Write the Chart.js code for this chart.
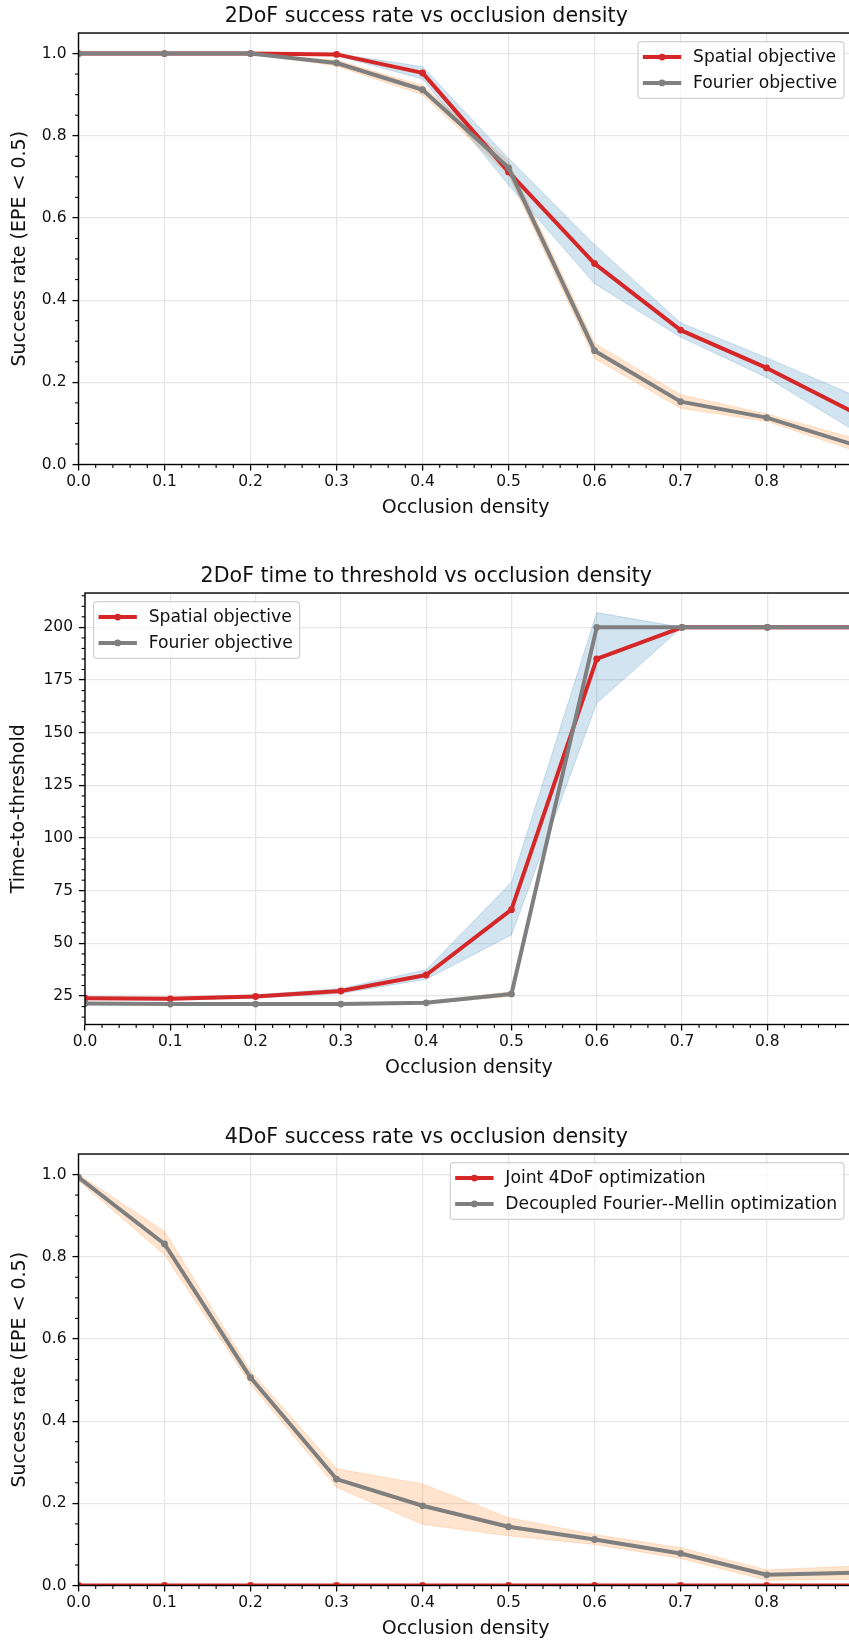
<!DOCTYPE html>
<html>
<head>
<meta charset="utf-8">
<script src="https://cdn.jsdelivr.net/npm/chart.js@4.4.1/dist/chart.umd.min.js"></script>
<style>
html,body{margin:0;padding:0;background:#fff;overflow:hidden;width:849px;height:1642px;position:relative;}
.box{position:absolute;left:0;width:870px;height:560px;}
canvas{display:block;}
</style>
</head>
<body>
<div class="box" style="top:0px"><canvas id="c1" width="870" height="560"></canvas></div>
<div class="box" style="top:560px"><canvas id="c2" width="870" height="560"></canvas></div>
<div class="box" style="top:1121px"><canvas id="c3" width="870" height="560"></canvas></div>
<script>
// ---------- data ----------
const densities = [0.0, 0.1, 0.2, 0.3, 0.4, 0.5, 0.6, 0.7, 0.8, 0.9];

const xTickValues = [0.0, 0.1, 0.2, 0.3, 0.4, 0.5, 0.6, 0.7, 0.8];
const xTickLabels = ['0.0', '0.1', '0.2', '0.3', '0.4', '0.5', '0.6', '0.7', '0.8'];
const rateTickValues = [0.0, 0.2, 0.4, 0.6, 0.8, 1.0];
const rateTickLabels = ['0.0', '0.2', '0.4', '0.6', '0.8', '1.0'];
const timeTickValues = [25, 50, 75, 100, 125, 150, 175, 200];
const timeTickLabels = ['25', '50', '75', '100', '125', '150', '175', '200'];

// Chart 1: 2DoF success rate
const spatialRate   = [1.000, 1.000, 1.000, 0.998, 0.953, 0.712, 0.489, 0.327, 0.235, 0.128];
const spatialRateLo = [1.000, 1.000, 1.000, 0.995, 0.938, 0.680, 0.440, 0.310, 0.212, 0.085];
const spatialRateHi = [1.000, 1.000, 1.000, 1.000, 0.968, 0.745, 0.535, 0.345, 0.260, 0.170];
const fourierRate   = [1.000, 1.000, 1.000, 0.977, 0.912, 0.722, 0.277, 0.153, 0.114, 0.049];
const fourierRateLo = [1.000, 1.000, 1.000, 0.970, 0.900, 0.705, 0.258, 0.137, 0.105, 0.035];
const fourierRateHi = [1.000, 1.000, 1.000, 0.984, 0.922, 0.738, 0.295, 0.170, 0.123, 0.065];

// Chart 2: 2DoF time to threshold
const spatialTime   = [24.0, 23.7, 24.8, 27.4, 35.0, 66.0, 185.0, 200, 200, 200];
const spatialTimeLo = [23.3, 23.0, 24.0, 26.2, 33.0, 54.0, 164.0, 200, 200, 200];
const spatialTimeHi = [24.7, 24.4, 25.6, 28.6, 37.5, 79.0, 207.0, 200, 200, 200];
const fourierTime   = [21.5, 21.2, 21.2, 21.2, 21.8, 26.0, 200, 200, 200, 200];
const fourierTimeLo = [21.0, 20.8, 20.8, 20.8, 21.2, 25.0, 200, 200, 200, 200];
const fourierTimeHi = [22.0, 21.6, 21.6, 21.6, 22.4, 27.0, 200, 200, 200, 200];

// Chart 3: 4DoF success rate
const jointRate       = [0, 0, 0, 0, 0, 0, 0, 0, 0, 0];
const jointRateLo     = [0, 0, 0, 0, 0, 0, 0, 0, 0, 0];
const jointRateHi     = [0, 0, 0, 0, 0, 0, 0, 0, 0, 0];
const decoupledRate   = [0.993, 0.831, 0.506, 0.259, 0.194, 0.143, 0.112, 0.078, 0.026, 0.031];
const decoupledRateLo = [0.985, 0.805, 0.490, 0.239, 0.149, 0.121, 0.100, 0.066, 0.013, 0.015];
const decoupledRateHi = [1.000, 0.862, 0.522, 0.284, 0.247, 0.165, 0.124, 0.092, 0.038, 0.047];

// ---------- styling ----------
const FONT = '"DejaVu Sans", "Liberation Sans", sans-serif';
const RED = '#d62728';
const GRAY = '#7f7f7f';
const BLUE_FILL = 'rgba(31,119,180,0.2)';
const ORANGE_FILL = 'rgba(255,127,14,0.2)';
const TEXT = '#111';

const pts = (arr) => densities.map((d, i) => ({x: d, y: arr[i]}));

function lineDs(label, arr, color, order) {
  return {
    label, data: pts(arr), borderColor: color, backgroundColor: color,
    borderWidth: 4, borderCapStyle: 'square', borderJoinStyle: 'round',
    pointRadius: 3.4, pointBorderWidth: 0, pointBackgroundColor: color,
    pointHoverRadius: 3.4, tension: 0, fill: false, clip: 0, order
  };
}
function bandDs(arr, color, fill) {
  return {
    label: '_band', data: pts(arr), borderColor: color, borderWidth: 1,
    backgroundColor: color, pointRadius: 0, pointHoverRadius: 0,
    tension: 0, fill: fill, clip: 0, order: 5
  };
}

const mplFrame = {
  id: 'mplFrame',
  afterDatasetsDraw(chart, args, o) {
    const {ctx, chartArea: a} = chart;
    const xs = chart.scales.x, ys = chart.scales.y;
    ctx.save();
    ctx.strokeStyle = '#000';
    ctx.lineWidth = 1.1;
    // minor ticks
    const isMajor = (v, majors) => majors.some(m => Math.abs(m - v) < 1e-6);
    for (let v = o.xMinorStart; v < xs.max - 1e-9; v += o.xMinorStep) {
      const vv = Math.round(v * 1000) / 1000;
      if (isMajor(vv, xTickValues) || vv <= xs.min) continue;
      const p = xs.getPixelForValue(vv);
      ctx.beginPath(); ctx.moveTo(p, a.bottom); ctx.lineTo(p, a.bottom + 3.4); ctx.stroke();
    }
    for (let v = o.yMinorStart; v < ys.max - 1e-9; v += o.yMinorStep) {
      const vv = Math.round(v * 1000) / 1000;
      if (isMajor(vv, o.yMajors) || vv <= ys.min) continue;
      const p = ys.getPixelForValue(vv);
      ctx.beginPath(); ctx.moveTo(a.left, p); ctx.lineTo(a.left - 3.4, p); ctx.stroke();
    }
    // spines
    ctx.lineWidth = 1.4;
    ctx.strokeRect(a.left, a.top, a.right - a.left, a.bottom - a.top);
    ctx.restore();
  }
};

const mplLegend = {
  id: 'mplLegend',
  afterDraw(chart, args, o) {
    if (!o.items) return;
    const {ctx, chartArea: a} = chart;
    const fs = 17.2;
    ctx.save();
    ctx.font = fs + 'px ' + FONT;
    const tw = Math.max(...o.items.map(it => ctx.measureText(it.label).width));
    const pad = 0.4 * fs, hl = 2 * fs, htp = 0.8 * fs, ls = 0.5 * fs, bap = 0.5 * fs, rh = fs;
    const w = pad * 2 + hl + htp + tw;
    const h = pad * 2 + o.items.length * rh + (o.items.length - 1) * ls;
    const x0 = o.loc === 'upper left' ? a.left + bap : a.right - bap - w;
    const y0 = a.top + bap;
    const r = 3.5;
    ctx.beginPath();
    ctx.moveTo(x0 + r, y0);
    ctx.lineTo(x0 + w - r, y0); ctx.arcTo(x0 + w, y0, x0 + w, y0 + r, r);
    ctx.lineTo(x0 + w, y0 + h - r); ctx.arcTo(x0 + w, y0 + h, x0 + w - r, y0 + h, r);
    ctx.lineTo(x0 + r, y0 + h); ctx.arcTo(x0, y0 + h, x0, y0 + h - r, r);
    ctx.lineTo(x0, y0 + r); ctx.arcTo(x0, y0, x0 + r, y0, r);
    ctx.closePath();
    ctx.fillStyle = 'rgba(255,255,255,0.8)';
    ctx.fill();
    ctx.strokeStyle = 'rgba(204,204,204,0.9)';
    ctx.lineWidth = 1.2;
    ctx.stroke();
    o.items.forEach((it, i) => {
      const cy = y0 + pad + rh / 2 + i * (rh + ls);
      ctx.strokeStyle = it.color; ctx.lineWidth = 4; ctx.lineCap = 'square';
      ctx.beginPath(); ctx.moveTo(x0 + pad, cy); ctx.lineTo(x0 + pad + hl, cy); ctx.stroke();
      ctx.fillStyle = it.color;
      ctx.beginPath(); ctx.arc(x0 + pad + hl / 2, cy, 3.4, 0, Math.PI * 2); ctx.fill();
      ctx.fillStyle = TEXT; ctx.textBaseline = 'middle'; ctx.textAlign = 'left';
      ctx.fillText(it.label, x0 + pad + hl + htp, cy + 0.5);
    });
    ctx.restore();
  }
};

function makeChart(id, cfg) {
  return new Chart(document.getElementById(id), {
    type: 'line',
    data: {datasets: cfg.datasets},
    plugins: [mplFrame, mplLegend],
    options: {
      responsive: false, animation: false, devicePixelRatio: 1, events: [],
      layout: {padding: {left: 0, right: 17.4, top: 0, bottom: 35.5}},
      plugins: {
        legend: {display: false},
        tooltip: {enabled: false},
        title: {
          display: true, text: cfg.title, color: TEXT,
          font: {family: FONT, size: 20.6, weight: 'normal', lineHeight: 1.2},
          padding: {top: 4.1, bottom: 4.2}
        },
        mplLegend: {items: cfg.legend, loc: cfg.legendLoc},
        mplFrame: {xMinorStart: 0, xMinorStep: 0.02, yMinorStart: cfg.yMinorStart, yMinorStep: cfg.yMinorStep, yMajors: cfg.yTickValues}
      },
      scales: {
        x: {
          type: 'linear', min: 0, max: 0.9,
          afterBuildTicks: s => { s.ticks = xTickValues.map(v => ({value: v})); },
          afterFit: s => { s.height = 60; s.paddingLeft = 0; s.paddingRight = 0; },
          ticks: {autoSkip: false, maxRotation: 0, minRotation: 0, padding: 2, color: TEXT,
                  font: {family: FONT, size: 15.5}, callback: (v, i) => xTickLabels[i]},
          grid: {color: '#e6e6e6', lineWidth: 1.2, drawTicks: true, tickLength: 6, tickColor: '#000', tickWidth: 1.3},
          border: {display: false},
          title: {display: true, text: 'Occlusion density', color: TEXT,
                  font: {family: FONT, size: 19, lineHeight: 1.2}, padding: {top: 0, bottom: 5.1}}
        },
        y: {
          type: 'linear', min: cfg.yMin, max: cfg.yMax,
          afterBuildTicks: s => { s.ticks = cfg.yTickValues.map(v => ({value: v})); },
          afterFit: s => { s.width = cfg.yWidth; s.paddingTop = 0; s.paddingBottom = 0; },
          ticks: {autoSkip: false, padding: 6, color: TEXT, font: {family: FONT, size: 15.5},
                  callback: (v, i) => cfg.yTickLabels[i]},
          grid: {color: '#e6e6e6', lineWidth: 1.2, drawTicks: true, tickLength: 6, tickColor: '#000', tickWidth: 1.3},
          border: {display: false},
          title: {display: true, text: cfg.yTitle, color: TEXT,
                  font: {family: FONT, size: 19, lineHeight: 1.2}, padding: {top: cfg.yTitlePad, bottom: 0}}
        }
      }
    }
  });
}

makeChart('c1', {
  title: '2DoF success rate vs occlusion density',
  yTitle: 'Success rate (EPE < 0.5)', yTitlePad: 8.6,
  yMin: 0, yMax: 1.05, yWidth: 78.5,
  yTickValues: rateTickValues, yTickLabels: rateTickLabels,
  yMinorStart: 0, yMinorStep: 0.05,
  legend: [{label: 'Spatial objective', color: RED}, {label: 'Fourier objective', color: GRAY}],
  legendLoc: 'upper right',
  datasets: [
    bandDs(spatialRateLo, BLUE_FILL, false),
    bandDs(spatialRateHi, BLUE_FILL, '-1'),
    bandDs(fourierRateLo, ORANGE_FILL, false),
    bandDs(fourierRateHi, ORANGE_FILL, '-1'),
    lineDs('Spatial objective', spatialRate, RED, 2),
    lineDs('Fourier objective', fourierRate, GRAY, 1)
  ]
});

makeChart('c2', {
  title: '2DoF time to threshold vs occlusion density',
  yTitle: 'Time-to-threshold', yTitlePad: 7.6,
  yMin: 11.5, yMax: 216.3, yWidth: 85,
  yTickValues: timeTickValues, yTickLabels: timeTickLabels,
  yMinorStart: 0, yMinorStep: 5,
  legend: [{label: 'Spatial objective', color: RED}, {label: 'Fourier objective', color: GRAY}],
  legendLoc: 'upper left',
  datasets: [
    bandDs(spatialTimeLo, BLUE_FILL, false),
    bandDs(spatialTimeHi, BLUE_FILL, '-1'),
    bandDs(fourierTimeLo, ORANGE_FILL, false),
    bandDs(fourierTimeHi, ORANGE_FILL, '-1'),
    lineDs('Spatial objective', spatialTime, RED, 2),
    lineDs('Fourier objective', fourierTime, GRAY, 1)
  ]
});

makeChart('c3', {
  title: '4DoF success rate vs occlusion density',
  yTitle: 'Success rate (EPE < 0.5)', yTitlePad: 8.6,
  yMin: 0, yMax: 1.05, yWidth: 78.5,
  yTickValues: rateTickValues, yTickLabels: rateTickLabels,
  yMinorStart: 0, yMinorStep: 0.05,
  legend: [{label: 'Joint 4DoF optimization', color: RED}, {label: 'Decoupled Fourier--Mellin optimization', color: GRAY}],
  legendLoc: 'upper right',
  datasets: [
    bandDs(jointRateLo, BLUE_FILL, false),
    bandDs(jointRateHi, BLUE_FILL, '-1'),
    bandDs(decoupledRateLo, ORANGE_FILL, false),
    bandDs(decoupledRateHi, ORANGE_FILL, '-1'),
    lineDs('Joint 4DoF optimization', jointRate, RED, 2),
    lineDs('Decoupled Fourier--Mellin optimization', decoupledRate, GRAY, 1)
  ]
});
</script>
</body>
</html>
